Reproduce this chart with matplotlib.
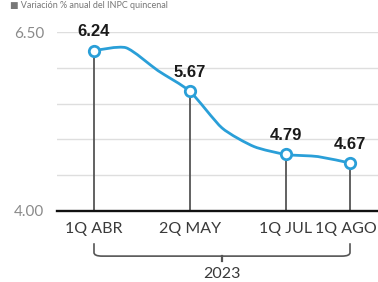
import matplotlib
matplotlib.use("Agg")
import matplotlib.pyplot as plt
from matplotlib.path import Path
from matplotlib.patches import PathPatch
import matplotlib.transforms as mtransforms

# Data (biweekly annual inflation, %)
periods = ["1Q ABR", "2Q ABR", "1Q MAY", "2Q MAY", "1Q JUN", "2Q JUN", "1Q JUL", "2Q JUL", "1Q AGO"]
values = [6.24, 6.28, 5.96, 5.67, 5.16, 4.90, 4.79, 4.76, 4.67]
labeled_idx = [0, 3, 6, 8]
tick_labels = ["1Q ABR", "2Q MAY", "1Q JUL", "1Q AGO"]
year_label = "2023"
y_ticks = [4.00, 6.50]
grid_vals = [4.5, 5.0, 5.5, 6.0, 6.5]
title = "\u25a0 Variación % anual del INPC quincenal"

W, H = 378, 282
fig = plt.figure(figsize=(W / 100, H / 100), dpi=100)
ax = fig.add_axes([57 / W, 1 - 211 / H, 1 - 57 / W, 179 / H])

x = list(range(len(values)))
blue = "#2a9fd8"

ax.set_xlim(-1.156, 8.875)
ax.set_ylim(4.0, 6.5)

for g in grid_vals:
    ax.axhline(g, color="#dedede", lw=1.0, zorder=0)

# stems
for i in labeled_idx:
    ax.plot([x[i], x[i]], [4.0, values[i]], color="#555555", lw=1.3, zorder=1)

# smooth line (Catmull-Rom rendered as cubic Bezier segments, low tension)
pts = list(zip(x, values))
verts = [pts[0]]
codes = [Path.MOVETO]
t = 1 / 9
for k in range(len(pts) - 1):
    p0 = pts[k - 1] if k > 0 else pts[k]
    p1 = pts[k]
    p2 = pts[k + 1]
    p3 = pts[k + 2] if k + 2 < len(pts) else pts[k + 1]
    c1 = (p1[0] + (p2[0] - p0[0]) * t, p1[1] + (p2[1] - p0[1]) * t)
    c2 = (p2[0] - (p3[0] - p1[0]) * t, p2[1] - (p3[1] - p1[1]) * t)
    verts += [c1, c2, p2]
    codes += [Path.CURVE4] * 3
ax.add_patch(PathPatch(Path(verts, codes), fill=False, edgecolor=blue, lw=2.0,
                       capstyle="round", joinstyle="round", zorder=2))

ax.plot([x[i] for i in labeled_idx], [values[i] for i in labeled_idx], "o", ms=7.5,
        mfc="white", mec=blue, mew=2.0, zorder=3)

for i in labeled_idx:
    ax.annotate(f"{values[i]:.2f}", (x[i], values[i]), xytext=(0, 19), textcoords="offset pixels",
                ha="center", va="center", fontsize=12, fontweight="bold", color="#1a1a1a",
                family="Liberation Sans", zorder=4, annotation_clip=False)

# base axis line
ax.axhline(4.0, color="#111111", lw=1.7, zorder=2, clip_on=False)

for s in ax.spines.values():
    s.set_visible(False)

ax.set_yticks(y_ticks)
ax.set_yticklabels([f"{v:.2f}" for v in y_ticks], fontsize=11, color="#8a8a8a", family="Lato")
ax.tick_params(axis="y", length=0, pad=9)

ax.set_xticks([x[i] for i in labeled_idx])
ax.set_xticklabels(tick_labels, fontsize=11.5, color="#3a3a3a", family="Lato")
ax.tick_params(axis="x", length=0, pad=8)
# nudge the last label left so it fits within the figure, as in the reference
last = ax.get_xticklabels()[-1]
last.set_transform(last.get_transform() + mtransforms.ScaledTranslation(-4 / 100, 0, fig.dpi_scale_trans))

# bracket
trans = mtransforms.blended_transform_factory(ax.transData, ax.transAxes)
x0, x1 = x[labeled_idx[0]], x[labeled_idx[-1]]
xm = (x0 + x1) / 2
ytop, ybot, ytick = -0.18, -0.252, -0.277
r = 0.25
bverts = [(x0, ytop), (x0, ybot + 0.02), (x0, ybot), (x0 + r, ybot),
          (x1 - r, ybot), (x1, ybot), (x1, ybot + 0.02), (x1, ytop)]
bcodes = [Path.MOVETO, Path.LINETO, Path.CURVE3, Path.CURVE3,
          Path.LINETO, Path.CURVE3, Path.CURVE3, Path.LINETO]
ax.add_patch(PathPatch(Path(bverts, bcodes), fill=False, edgecolor="#555555", lw=1.2,
                       transform=trans, clip_on=False))
ax.plot([xm, xm], [ybot, ytick], color="#555555", lw=1.6, transform=trans, clip_on=False)
ax.text(xm, -0.35, year_label, transform=trans, ha="center", va="center",
        fontsize=11.5, color="#3a3a3a", family="Lato")

fig.text(10 / W, 1 - 1 / H, title, ha="left", va="top", fontsize=6.5, color="#777777",
         family=["Lato", "DejaVu Sans"])

fig.savefig("out.png", dpi=100, facecolor="white")
